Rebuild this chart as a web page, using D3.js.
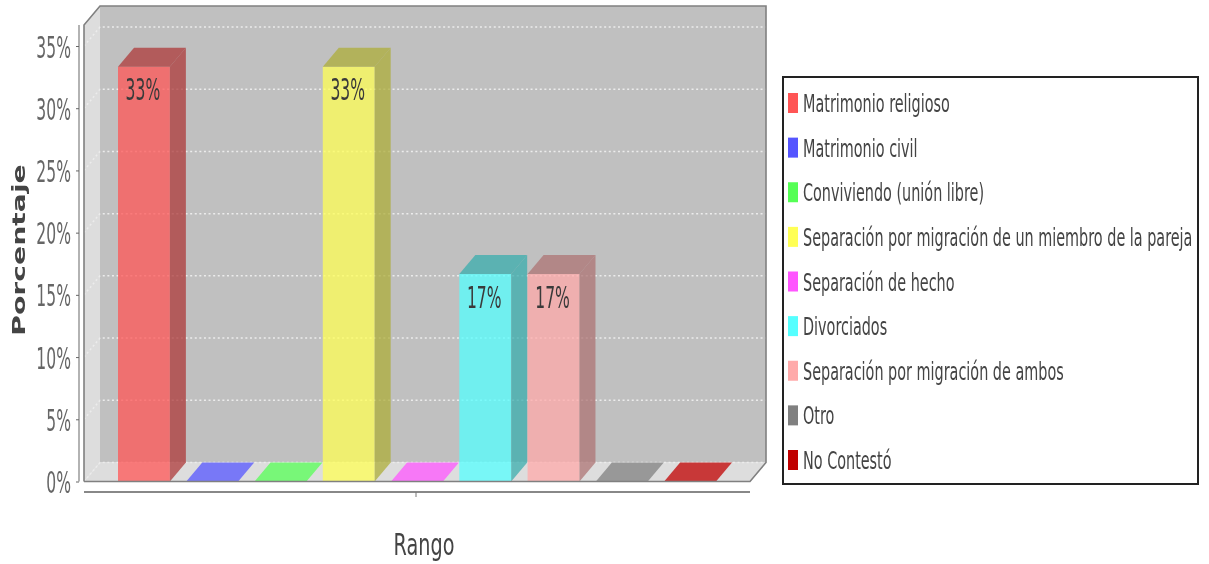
<!DOCTYPE html>
<html>
<head>
<meta charset="utf-8">
<script src="https://cdnjs.cloudflare.com/ajax/libs/d3/7.8.5/d3.min.js"></script>
<style>
html,body{margin:0;padding:0;background:#fff;overflow:hidden}
svg{display:block;filter:blur(0.6px)}
text{font-family:"DejaVu Sans",sans-serif}
</style>
</head>
<body>
<div id="chart"></div>
<script>
const categories = ["Matrimonio religioso","Matrimonio civil","Conviviendo (unión libre)","Separación por migración de un miembro de la pareja","Separación de hecho","Divorciados","Separación por migración de ambos","Otro","No Contestó"];
const values = [33.33,0,0,33.33,0,16.67,16.67,0,0];
const barLabels = ["33%","","","33%","","17%","17%","",""];
const palette = ["#ff5555","#5555ff","#55ff55","#ffff55","#ff55ff","#55ffff","#ffaaaa","#808080","#c00000"];
const yTicks = [0,5,10,15,20,25,30,35];

const width = 1209, height = 564;
// 3d 偏移
const depthX = 16, depthY = 19;
const plot = { left: 84, right: 750, bottom: 481.5 };
const plotTop = 25;
const barAlpha = 0.75;

const y = d3.scaleLinear().domain([0,35]).range([plot.bottom, 46]);
const x = d3.scaleBand().domain(categories).range([118,716]).paddingInner(0.24).paddingOuter(0);

const svg = d3.select("#chart").append("svg").attr("width",width).attr("height",height);
const poly = pts => pts.map(p => p.join(",")).join(" ");

// 背景墙
svg.append("polygon").attr("fill","#c0c0c0")
    .attr("points",poly([[plot.left+depthX,plotTop-depthY],[plot.right+depthX,plotTop-depthY],[plot.right+depthX,plot.bottom-depthY],[plot.left+depthX,plot.bottom-depthY]]));
svg.append("polygon").attr("fill","#dddddd")
    .attr("points",poly([[plot.left,plotTop],[plot.left+depthX,plotTop-depthY],[plot.left+depthX,plot.bottom-depthY],[plot.left,plot.bottom]]));
svg.append("polygon").attr("fill","#dddddd")
    .attr("points",poly([[plot.left,plot.bottom],[plot.left+depthX,plot.bottom-depthY],[plot.right+depthX,plot.bottom-depthY],[plot.right,plot.bottom]]));

// 网格线
yTicks.forEach(t => {
    svg.append("polyline").attr("fill","none").attr("stroke","#ececec").attr("stroke-width",1.5).attr("stroke-dasharray","2 2.6")
        .attr("points",poly([[plot.left,y(t)],[plot.left+depthX,y(t)-depthY],[plot.right+depthX,y(t)-depthY]]));
});

// 柱子
const bars = svg.append("g").selectAll("g").data(categories).join("g");
bars.each(function(c,i){
    const g = d3.select(this);
    const v = values[i], x0 = x(c), x1 = x0 + x.bandwidth(), yb = y(0), yt = y(v);
    const base = d3.rgb(palette[i]);
    const shade = d3.rgb(base.r*0.68,base.g*0.68,base.b*0.68).formatHex();
    if (v > 0) {
        g.append("polygon").attr("fill",palette[i]).attr("fill-opacity",barAlpha)
            .attr("points",poly([[x0,yb],[x1,yb],[x1,yt],[x0,yt]]));
        g.append("polygon").attr("fill",shade).attr("fill-opacity",barAlpha)
            .attr("points",poly([[x1,yb],[x1+depthX,yb-depthY],[x1+depthX,yt-depthY],[x1,yt]]));
    }
    g.append("polygon").attr("fill",v > 0 ? shade : palette[i]).attr("fill-opacity",barAlpha)
        .attr("points",poly([[x0,yt],[x1,yt],[x1+depthX,yt-depthY],[x0+depthX,yt-depthY]]));
    if (barLabels[i]) {
        g.append("text").attr("text-anchor","middle").attr("fill","#3a3a3a").attr("font-size",30)
            .attr("transform",`translate(${(x0+x1)/2-1},${yt+33.5}) scale(0.52,1)`).text(barLabels[i]);
    }
});

// 外框
svg.append("polyline").attr("fill","none").attr("stroke","#808080").attr("stroke-width",1.6)
    .attr("points",poly([[plot.left,plot.bottom],[plot.left,plotTop],[plot.left+depthX,plotTop-depthY],[plot.right+depthX,plotTop-depthY],[plot.right+depthX,plot.bottom-depthY],[plot.right,plot.bottom],[plot.left,plot.bottom]]));

// y轴
const yAxis = svg.append("g").attr("transform","translate(79,0)")
    .call(d3.axisLeft(y).tickValues(yTicks).tickFormat(d => d + "%").tickSize(3).tickPadding(5));
yAxis.select(".domain").attr("stroke","#808080").attr("stroke-width",1.2).attr("d",`M0,${plotTop}V${plot.bottom}`);
yAxis.selectAll(".tick line").attr("stroke","#666");
yAxis.selectAll(".tick text").attr("font-size",30).attr("fill","#666").attr("text-anchor","end")
    .attr("x",-8/0.52).attr("dy",0)
    .attr("transform","translate(0,11) scale(0.52,1)");

// x轴
svg.append("line").attr("x1",plot.left).attr("x2",plot.right).attr("y1",492).attr("y2",492).attr("stroke","#888").attr("stroke-width",1.8);
svg.append("line").attr("x1",416).attr("x2",416).attr("y1",492).attr("y2",497).attr("stroke","#777");

svg.append("text").attr("text-anchor","middle").attr("fill","#444").attr("font-size",31)
    .attr("transform","translate(424,555) scale(0.62,1)").text("Rango");
svg.append("text").attr("text-anchor","middle").attr("fill","#444").attr("font-size",18).attr("font-weight","bold")
    .attr("transform","translate(25,250) rotate(-90) scale(1.57,1)").text("Porcentaje");

// 图例
svg.append("rect").attr("x",783).attr("y",77).attr("width",415).attr("height",407).attr("fill","#fff").attr("stroke","#222").attr("stroke-width",2);
const legendY = d3.scalePoint().domain(categories).range([103,460]);
const legend = svg.append("g").selectAll("g").data(categories).join("g")
    .attr("transform",d => `translate(0,${legendY(d)})`);
legend.append("rect").attr("x",788).attr("y",-10).attr("width",10).attr("height",20).attr("fill",(d,i) => palette[i]);
legend.append("text").attr("fill","#444").attr("font-size",24)
    .attr("transform","translate(803,9) scale(0.6,1)").text(d => d);
</script>
</body>
</html>
